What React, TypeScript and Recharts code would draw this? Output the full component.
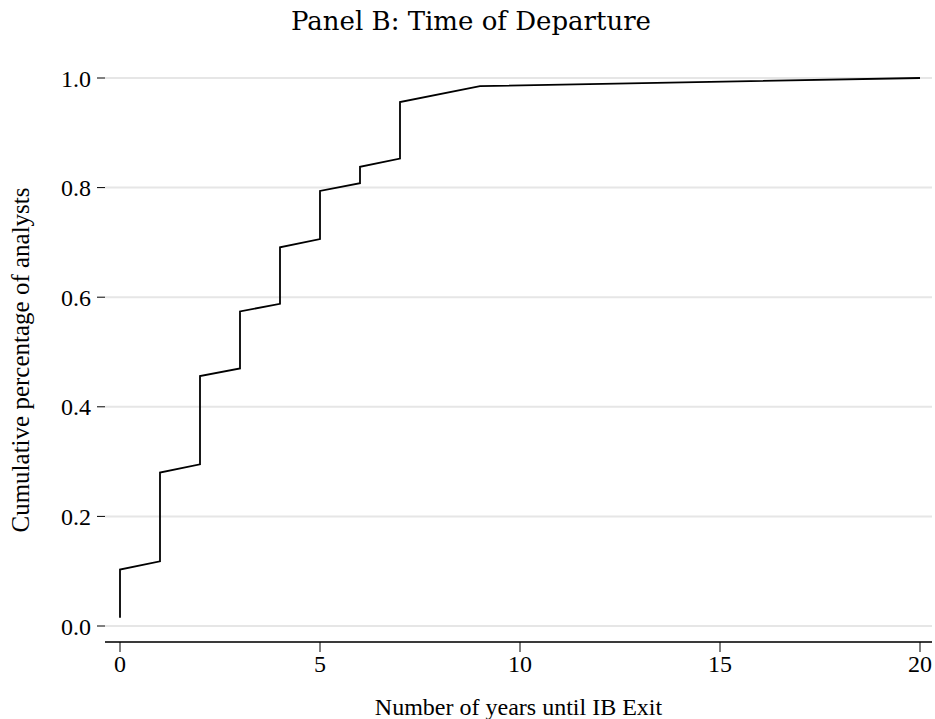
import { CartesianGrid, Line, LineChart, XAxis, YAxis } from 'recharts';

// empirical CDF of years until exit (vertical jumps = repeated x)
const years = [0, 0, 1, 1, 2, 2, 3, 3, 4, 4, 5, 5, 6, 6, 7, 7, 9, 20];
const cumShare = [
  0.015, 0.103, 0.118, 0.28, 0.295, 0.456, 0.47, 0.574, 0.588, 0.691, 0.706,
  0.794, 0.808, 0.838, 0.853, 0.956, 0.985, 1.0,
];
const xTicks = [0, 5, 10, 15, 20];
const yTicks = [0, 0.2, 0.4, 0.6, 0.8, 1.0];

const data = years.map((y, i) => ({ years: y, share: cumShare[i] }));

const serif = '"Liberation Serif", "Times New Roman", serif';

export default function App() {
  return (
    <div style={{ position: 'absolute', left: 0, top: 0, width: 935, height: 719, background: '#fff' }}>
      <div
        style={{
          position: 'absolute',
          left: 0,
          top: 6,
          width: 942,
          textAlign: 'center',
          fontFamily: '"DejaVu Serif", serif',
          fontSize: 26,
          fontWeight: 300,
          color: '#000',
        }}
      >
        Panel B: Time of Departure
      </div>
      <LineChart width={935} height={719} data={data} margin={{ top: 78, right: 3, bottom: 0, left: 0 }}>
        <CartesianGrid vertical={false} stroke="#e6e6e6" strokeWidth={2} />
        <XAxis
          dataKey="years"
          type="number"
          domain={[0, 20]}
          ticks={xTicks}
          padding={{ left: 15, right: 12 }}
          height={77}
          tickSize={10}
          tickMargin={3}
          axisLine={{ stroke: '#000', strokeWidth: 1.5 }}
          tickLine={{ stroke: '#000', strokeWidth: 1 }}
          tick={{ fill: '#000', fontFamily: serif, fontSize: 24 }}
          label={{
            value: 'Number of years until IB Exit',
            position: 'insideBottom',
            offset: 4,
            fill: '#000',
            fontFamily: serif,
            fontSize: 24,
          }}
        />
        <YAxis
          type="number"
          domain={[0, 1]}
          ticks={yTicks}
          padding={{ top: 0, bottom: 16 }}
          width={105}
          tickSize={8}
          tickMargin={6}
          axisLine={false}
          tickLine={{ stroke: '#000', strokeWidth: 1 }}
          tickFormatter={(v: number) => v.toFixed(1)}
          tick={{ fill: '#000', fontFamily: serif, fontSize: 24 }}
          label={{
            value: 'Cumulative percentage of analysts',
            angle: -90,
            position: 'insideLeft',
            offset: 20,
            fill: '#000',
            fontFamily: serif,
            fontSize: 25,
            style: { textAnchor: 'middle' },
          }}
        />
        <Line
          dataKey="share"
          type="linear"
          stroke="#000"
          strokeWidth={1.8}
          dot={false}
          activeDot={false}
          isAnimationActive={false}
        />
      </LineChart>
    </div>
  );
}
